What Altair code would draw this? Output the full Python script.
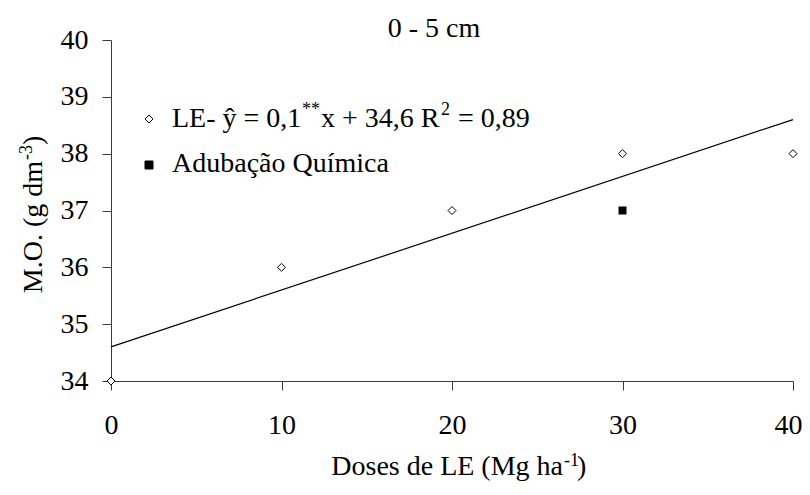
import altair as alt
import pandas as pd

# ---- data ----
doses = [0, 10, 20, 30, 40]
mo_le = [34, 36, 37, 38, 38]
quim_x = [30]
quim_y = [37]
fit_x = [0, 40]
fit_y = [34.6, 38.6]
x_ticks = [0, 10, 20, 30, 40]
y_ticks = [34, 35, 36, 37, 38, 39, 40]

FONT = "Liberation Serif"
FS = 28
SUP = 18

le_df = pd.DataFrame({"x": doses, "y": mo_le})
q_df = pd.DataFrame({"x": quim_x, "y": quim_y})
fit_df = pd.DataFrame({"x": fit_x, "y": fit_y})
one = pd.DataFrame({"k": [0]})

xs = alt.Scale(domain=[0, 40], nice=False, zero=False)
ys = alt.Scale(domain=[34, 40], nice=False, zero=False)

xaxis = alt.Axis(values=x_ticks, title=None, grid=False, tickSize=9, format="d",
                 labelPadding=21, labelFont=FONT, labelFontSize=FS,
                 labelColor="black", domainColor="#3a3a3a", tickColor="#3a3a3a",
                 labelFlush=False, labelOverlap=False,
                 labelOffset={"condition": {"test": "datum.value == 40", "value": -5},
                              "value": 0})
yaxis = alt.Axis(values=y_ticks, title=None, grid=False, tickSize=9, format="d",
                 labelPadding=14, labelFont=FONT, labelFontSize=FS,
                 labelColor="black", domainColor="#3a3a3a", tickColor="#3a3a3a",
                 labelOverlap=False)

fit = alt.Chart(fit_df).mark_line(color="black", strokeWidth=1.2, clip=False).encode(
    x=alt.X("x:Q", scale=xs, axis=xaxis),
    y=alt.Y("y:Q", scale=ys, axis=yaxis),
)
pts = alt.Chart(le_df).mark_point(shape="diamond", size=64, filled=True, fill="white",
                                  stroke="black", strokeWidth=1, opacity=1, clip=False).encode(
    x=alt.X("x:Q", scale=xs), y=alt.Y("y:Q", scale=ys))
sq = alt.Chart(q_df).mark_point(shape="square", size=64, filled=True, color="black",
                                opacity=1, clip=False).encode(
    x=alt.X("x:Q", scale=xs), y=alt.Y("y:Q", scale=ys))


def txt(t, x, y, size=FS, align="left", angle=None):
    kw = dict(text=t, font=FONT, fontSize=size, color="black", align=align,
              baseline="alphabetic")
    if angle is not None:
        kw["angle"] = angle
    return alt.Chart(one).mark_text(**kw).encode(x=alt.value(x), y=alt.value(y))


def sym(shape, x, y, fill):
    return alt.Chart(one).mark_point(shape=shape, size=64, filled=True, fill=fill,
                                     stroke="black", strokeWidth=1, opacity=1).encode(
        x=alt.value(x), y=alt.value(y))


layers = [
    fit, pts, sq,
    # title
    txt("0 - 5 cm", 323, -3, align="center"),
    # legend
    sym("diamond", 38, 79, "white"),
    sym("square", 38, 125, "black"),
    txt("LE- ŷ = 0,1", 61, 87),
    txt("**", 191, 75, size=SUP),
    txt("x + 34,6 R", 210, 87),
    txt("2", 330, 75, size=SUP),
    txt("= 0,89", 347, 87),
    txt("Adubação Química", 61, 132),
    # x title
    txt("Doses de LE (Mg ha", 452, 435, align="right"),
    txt("-1", 453, 426, size=SUP),
    txt(")", 466, 435),
    # y title
    txt("M.O. (g dm", -69, 121, align="right", angle=270),
    txt("-3", -79, 120, size=SUP, angle=270),
    txt(")", -69, 105, angle=270),
]

chart = alt.layer(*layers).properties(
    width=682, height=341,
    autosize=alt.AutoSizeParams(type="none"),
    padding={"left": 103, "top": 32, "right": 9, "bottom": 100},
).configure_view(stroke=None)

chart.save("out.html", embed_options={"renderer": "svg", "actions": False})
